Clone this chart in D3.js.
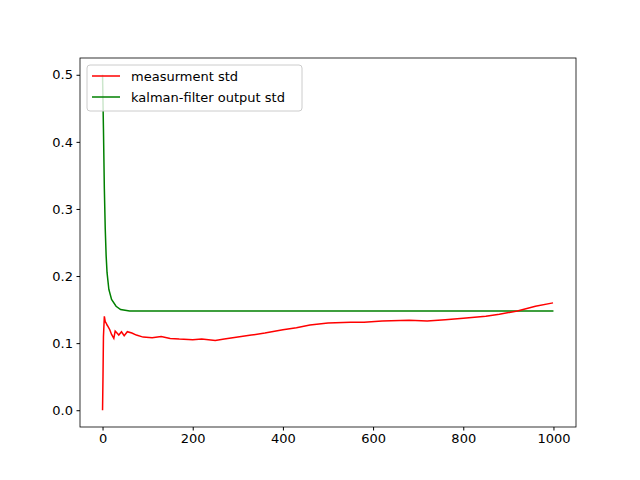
<!DOCTYPE html>
<html><head><meta charset="utf-8">
<script src="https://cdn.jsdelivr.net/npm/d3@7"></script>
<style>body{margin:0;background:#fff}text{font-family:"DejaVu Sans",sans-serif}</style>
</head><body><svg id="c" width="640" height="480"></svg>
<script>
const measX = [0,1,2,4,6,8,10,12,16,20,25,28,32,36,42,48,55,65,75,90,110,130,150,170,200,220,250,270,300,330,360,400,430,460,500,550,580,620,680,720,760,800,850,880,920,960,999]
const measY = [0,0.05,0.11,0.14,0.132,0.13,0.127,0.125,0.12,0.113,0.107,0.118,0.115,0.112,0.117,0.111,0.117,0.115,0.112,0.109,0.108,0.11,0.107,0.106,0.105,0.106,0.104,0.106,0.109,0.112,0.115,0.12,0.123,0.127,0.13,0.131,0.131,0.133,0.134,0.133,0.135,0.137,0.14,0.143,0.148,0.155,0.16]
const kfX = [0,2,4,6,8,10,14,20,30,40,60,1000]
const kfY = [0.5,0.42,0.33,0.27,0.23,0.205,0.18,0.165,0.155,0.15,0.148,0.148]
const xTicks = [0,200,400,600,800,1000]
const yTicks = [0,0.1,0.2,0.3,0.4,0.5]

const L=80,R=576,T=58,B=427
const svg=d3.select('#c')
const x=d3.scaleLinear().domain([-50,1050]).range([L,R])
const y=d3.scaleLinear().domain([-0.025,0.525]).range([B,T])

const line=d3.line().x(d=>x(d[0])).y(d=>y(d[1]))
svg.append('path').datum(kfX.map((v,i)=>[v,kfY[i]])).attr('d',line).attr('fill','none').attr('stroke','green').attr('stroke-width',1.5)
svg.append('path').datum(measX.map((v,i)=>[v,measY[i]])).attr('d',line).attr('fill','none').attr('stroke','red').attr('stroke-width',1.5)

svg.append('g').attr('transform',`translate(0,${B})`).call(d3.axisBottom(x).tickValues(xTicks).tickFormat(d3.format('d')).tickSize(3.5).tickPadding(3.5))
svg.append('g').attr('transform',`translate(${L},0)`).call(d3.axisLeft(y).tickValues(yTicks).tickFormat(d3.format('.1f')).tickSize(3.5).tickPadding(3.5))
svg.selectAll('.tick text').attr('font-size',13).attr('fill','#000').attr('font-family','DejaVu Sans')
svg.selectAll('.domain').remove()
svg.append('rect').attr('x',L).attr('y',T).attr('width',R-L).attr('height',B-T).attr('fill','none').attr('stroke','#000').attr('stroke-width',0.8)

// legend
const lg=svg.append('g').attr('transform','translate(87,65)')
lg.append('rect').attr('width',215).attr('height',46).attr('rx',3).attr('fill','#fff').attr('fill-opacity',0.8).attr('stroke','#ccc')
const items=[['measurment std','red'],['kalman-filter output std','green']]
items.forEach((it,i)=>{
  const g=lg.append('g').attr('transform',`translate(0,${11+i*21})`)
  g.append('line').attr('x1',5).attr('x2',33).attr('stroke',it[1]).attr('stroke-width',1.5)
  g.append('text').attr('x',44).attr('y',5).attr('font-size',13).text(it[0])
})
</script></body></html>
